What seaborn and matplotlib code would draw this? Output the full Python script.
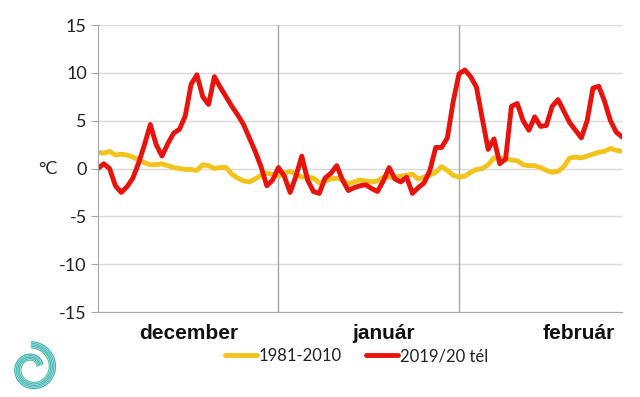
import seaborn as sns
import matplotlib.pyplot as plt
import pandas as pd
import numpy as np

# Daily mean temperature, 1 Dec 2019 - 29 Feb 2020 (91 days)
winter_2019_20 = [
    0.0, 0.5, 0.0, -1.8, -2.5, -1.9, -1.0, 0.6, 2.5, 4.6,
    2.5, 1.3, 2.6, 3.7, 4.1, 5.5, 8.8, 9.8, 7.5, 6.7,
    9.6, 8.5, 7.5, 6.5, 5.6, 4.6, 3.2, 1.8, 0.2, -1.8,
    -1.2, 0.1, -0.8, -2.5, -0.8, 1.3, -1.2, -2.4, -2.6, -1.0,
    -0.5, 0.3, -1.2, -2.3, -2.0, -1.8, -1.7, -2.1, -2.4, -1.3,
    0.1, -1.1, -1.4, -0.9, -2.6, -2.0, -1.5, -0.2, 2.2, 2.2,
    3.2, 7.0, 9.9, 10.3, 9.6, 8.5, 5.2, 2.0, 3.1, 0.5,
    1.0, 6.5, 6.8, 5.0, 4.0, 5.4, 4.4, 4.5, 6.5, 7.2,
    6.0, 4.8, 4.0, 3.2, 5.0, 8.4, 8.6, 7.0, 5.0, 3.8,
    3.3,
]
normal_1981_2010 = [
    1.7, 1.6, 1.8, 1.4, 1.5, 1.4, 1.2, 0.9, 0.6, 0.4,
    0.4, 0.5, 0.3, 0.1, 0.0, -0.1, -0.1, -0.2, 0.4, 0.3,
    0.0, 0.1, 0.1, -0.6, -1.0, -1.3, -1.4, -1.1, -0.7, -0.5,
    -0.6, -0.8, -0.5, -0.3, -0.6, -0.9, -0.9, -1.0, -1.5, -1.3,
    -1.1, -1.0, -1.2, -1.6, -1.4, -1.2, -1.3, -1.4, -1.3, -0.9,
    -0.9, -0.9, -0.8, -0.7, -0.6, -1.1, -0.9, -0.7, -0.4, 0.2,
    -0.2, -0.7, -0.9, -0.8, -0.4, -0.1, 0.0, 0.4, 1.1, 1.1,
    1.0, 0.9, 0.8, 0.4, 0.3, 0.3, 0.1, -0.2, -0.4, -0.3,
    0.2, 1.1, 1.2, 1.1, 1.3, 1.5, 1.7, 1.8, 2.1, 1.9,
    1.8,
]
months = ['december', 'január', 'február']
month_days = [31, 31, 29]
series_names = ['1981-2010', '2019/20 tél']

days = np.arange(len(winter_2019_20))
df = pd.DataFrame({'day': days, series_names[0]: normal_1981_2010,
                   series_names[1]: winter_2019_20})
df = df.melt(id_vars='day', var_name='series', value_name='temp')

sns.set_style('white')
plt.rcParams['font.family'] = ['Lato', 'DejaVu Sans']
plt.rcParams['axes.unicode_minus'] = False

fig = plt.figure(figsize=(6.4, 3.97), dpi=100)
ax = fig.add_axes([0.153, 0.214, 0.819, 0.723])

# gridlines
for y in range(-15, 16, 5):
    ax.axhline(y, color='#d9d9d9', lw=1, zorder=0)
bounds = np.cumsum(month_days)
for b in bounds[:-1]:
    ax.axvline(b, color='#a6a6a6', lw=1, zorder=0)

colors = ['#f2c31b', '#e8130d']
sns.lineplot(data=df, x='day', y='temp', hue='series',
             palette=colors, linewidth=3.5, ax=ax, legend=False)

ax.set_xlim(0, 90)
ax.set_ylim(-15, 15)
ax.set_yticks(range(-15, 16, 5))
ax.tick_params(axis='y', labelsize=13, length=5, color='#a6a6a6',
               direction='out', left=True, pad=3, labelcolor='#222222')
ax.set_xticks([])
ax.set_xlabel('')
ax.set_ylabel('°C', rotation=0, fontsize=13, va='center', color='#222222')
ax.yaxis.set_label_coords(-0.095, 0.5)
for side in ['top', 'right']:
    ax.spines[side].set_visible(False)
for side in ['left', 'bottom']:
    ax.spines[side].set_color('#a6a6a6')

# month labels (Excel places them off-centre)
label_pos = [15.5, 49.0, 82.5]
for name, x in zip(months, label_pos):
    ax.text(x, -16.3, name, ha='center', va='top', fontsize=15,
            fontweight='bold', family=['Liberation Sans', 'DejaVu Sans'],
            color='#111111')

handles = [plt.Line2D([], [], color=c, lw=3.5) for c in colors]
fig.legend(handles, series_names, loc='center', bbox_to_anchor=(0.557, 0.103),
           ncol=2, frameon=False, fontsize=12, handlelength=1.9,
           handletextpad=0.1, columnspacing=1.5, labelcolor='#222222')

# small logo-like spiral at lower left
logo = fig.add_axes([0.005, 0.0, 0.09, 0.145])
logo.set_xlim(-1.3, 1.3)
logo.set_ylim(-1.3, 1.3)
logo.set_aspect('equal')
logo.axis('off')
t = np.linspace(0.0, 2.4 * np.pi, 300)
for k in range(5):
    r = 1.2 - 0.07 * k - 0.09 * t
    logo.plot(r * np.cos(-t + 1.6), r * np.sin(-t + 1.6),
              color=['#3fb8b0', '#48c0a8', '#4aa8c8', '#3fb8b0', '#5cc4a0'][k],
              lw=0.9)

fig.savefig('out.png', dpi=100)
